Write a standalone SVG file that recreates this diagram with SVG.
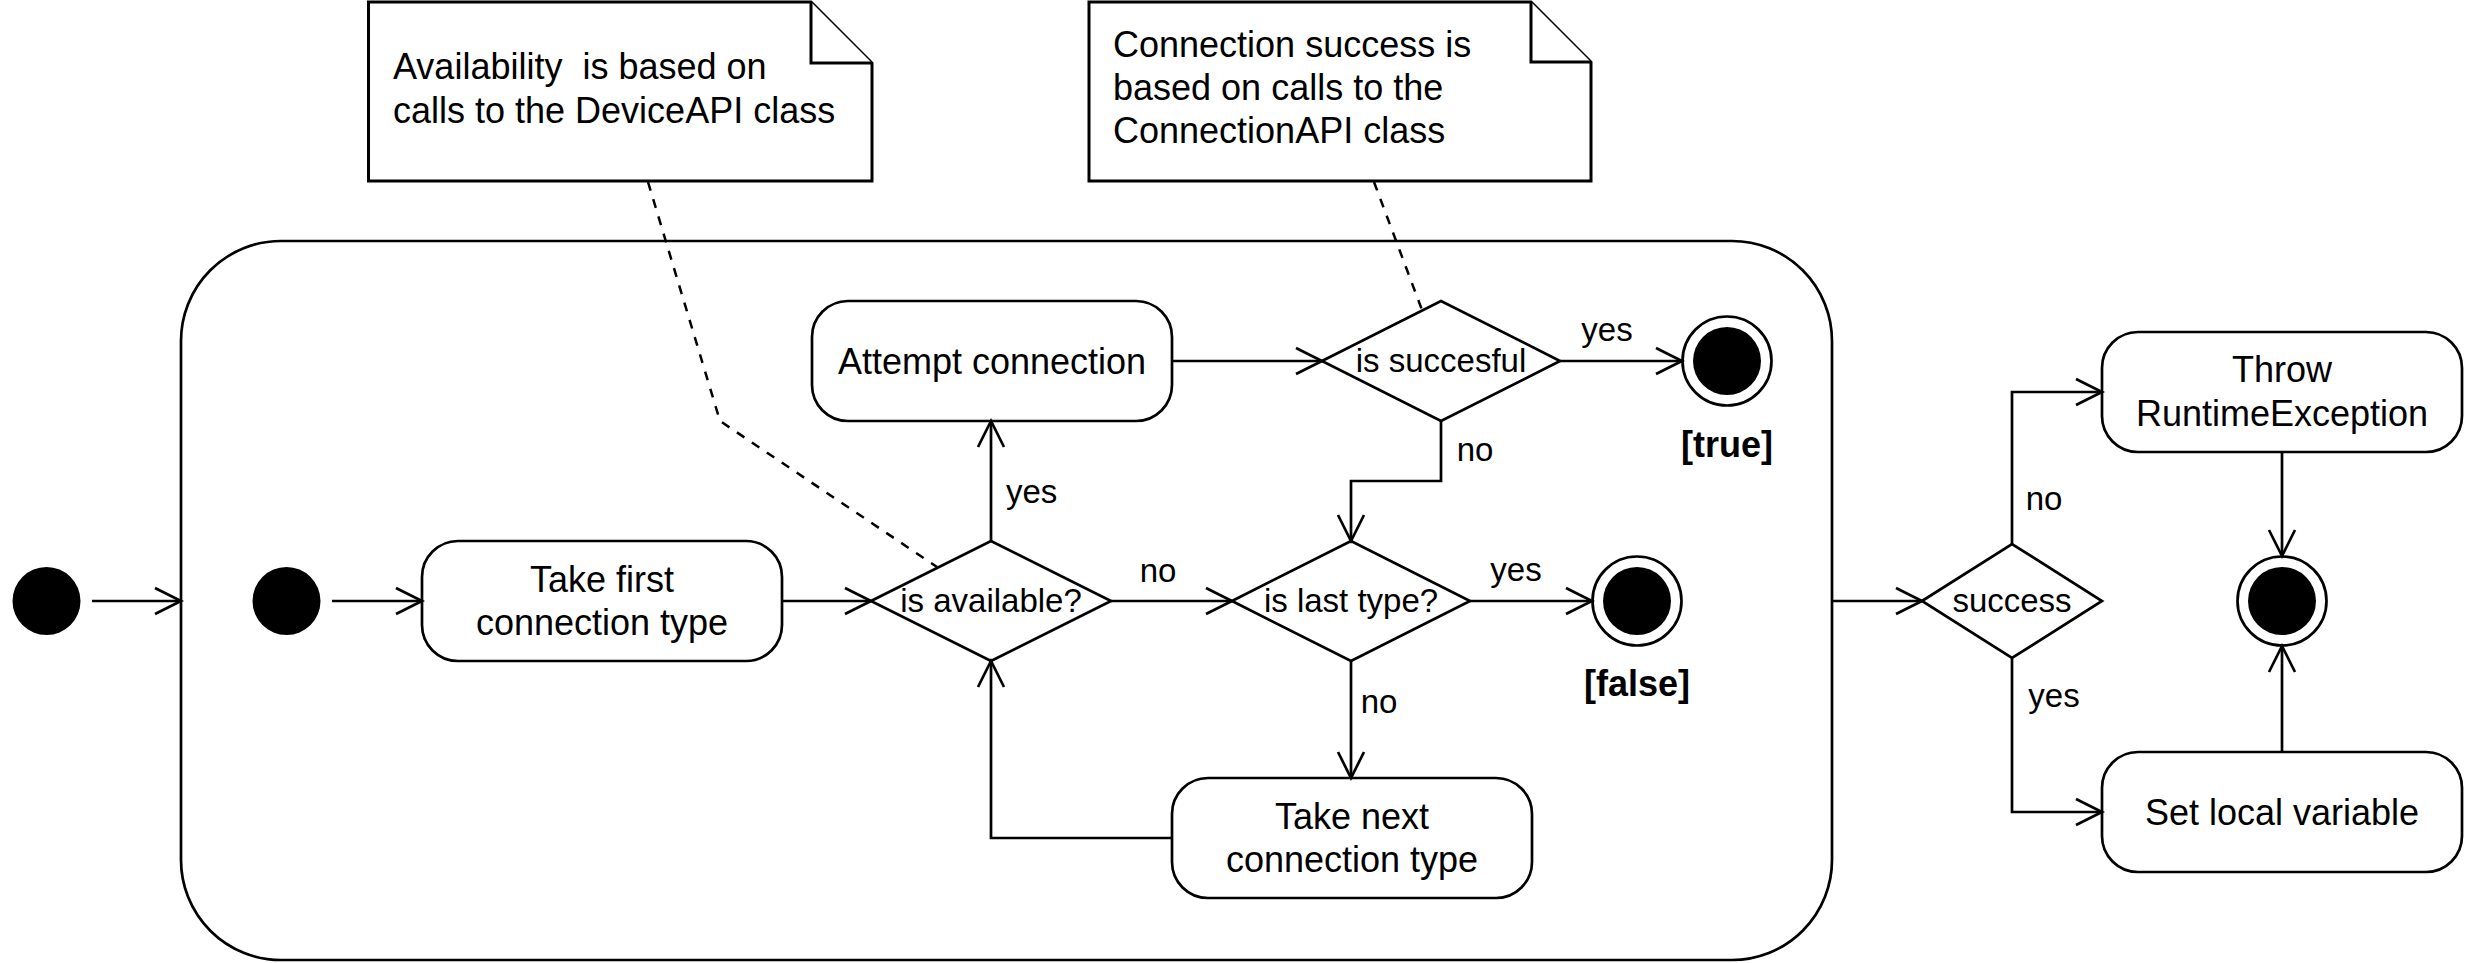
<svg xmlns="http://www.w3.org/2000/svg" width="2466" height="963" viewBox="0 0 2466 963">
<style>
.shape{fill:#fff;stroke:#000;stroke-width:2.7}
.note{fill:#fff;stroke:#000;stroke-width:3;stroke-linejoin:miter}
.edge{fill:none;stroke:#000;stroke-width:2.7}
.dash{fill:none;stroke:#000;stroke-width:2.5;stroke-dasharray:9 9}
.dot{fill:#000}
text{font-family:"Liberation Sans",Arial,Helvetica,sans-serif;fill:#000}
.t36{font-size:36px}
.t33{font-size:33px}
.c{text-anchor:middle}
.b{font-weight:bold;font-size:36px}
</style>
<defs>
<marker id="open" markerUnits="userSpaceOnUse" viewBox="-2 -2 32 32" refX="26" refY="13" markerWidth="32" markerHeight="32" orient="auto" overflow="visible">
<path d="M0,0 L26,13 L0,26" fill="none" stroke="#000" stroke-width="2.7"/>
</marker>
</defs>

<g id="container"><rect class="shape" x="181" y="241" width="1651" height="719" rx="100" ry="100"/></g>

<g id="note1">
<path class="note" d="M368.5,2 H811 L872,63 V181 H368.5 Z"/>
<path class="note" d="M811,2 V63 H872" fill="none"/>
<text class="t36" x="393" y="78.5" xml:space="preserve">Availability  is based on</text>
<text class="t36" x="393" y="122.5">calls to the DeviceAPI class</text>
</g>

<g id="note2">
<path class="note" d="M1089,2 H1531 L1591,62 V181 H1089 Z"/>
<path class="note" d="M1531,2 V62 H1591" fill="none"/>
<text class="t36" x="1113" y="57">Connection success is</text>
<text class="t36" x="1113" y="100">based on calls to the</text>
<text class="t36" x="1113" y="143">ConnectionAPI class</text>
</g>

<g id="outer-initial"><circle class="dot" cx="46.5" cy="601" r="34"/></g>
<g id="inner-initial"><circle class="dot" cx="286.5" cy="601" r="34"/></g>

<g id="take-first">
<rect class="shape" x="422" y="541" width="360" height="120" rx="36" ry="36"/>
<text class="t36 c" x="602" y="592">Take first</text>
<text class="t36 c" x="602" y="635">connection type</text>
</g>

<g id="is-available">
<polygon class="shape" points="871,601 991,541 1111,601 991,661"/>
<text class="t33 c" x="991" y="612">is available?</text>
</g>

<g id="attempt">
<rect class="shape" x="812" y="301" width="360" height="120" rx="36" ry="36"/>
<text class="t36 c" x="992" y="374">Attempt connection</text>
</g>

<g id="is-succesful">
<polygon class="shape" points="1322,361 1441,301 1560,361 1441,421"/>
<text class="t33 c" x="1441" y="372">is succesful</text>
</g>

<g id="final-true">
<circle class="shape" cx="1727" cy="361" r="44.5"/>
<circle class="dot" cx="1727" cy="361" r="34"/>
<text class="c b" x="1727" y="457">[true]</text>
</g>

<g id="is-last-type">
<polygon class="shape" points="1232,601 1351,541 1470,601 1351,661"/>
<text class="t33 c" x="1351" y="612">is last type?</text>
</g>

<g id="final-false">
<circle class="shape" cx="1637" cy="601" r="44.5"/>
<circle class="dot" cx="1637" cy="601" r="34"/>
<text class="c b" x="1637" y="696">[false]</text>
</g>

<g id="take-next">
<rect class="shape" x="1172" y="778" width="360" height="120" rx="36" ry="36"/>
<text class="t36 c" x="1352" y="829">Take next</text>
<text class="t36 c" x="1352" y="872">connection type</text>
</g>

<g id="success">
<polygon class="shape" points="1922,601 2012,544 2102,601 2012,658"/>
<text class="t33 c" x="2012" y="612">success</text>
</g>

<g id="throw">
<rect class="shape" x="2102" y="332" width="360" height="120" rx="36" ry="36"/>
<text class="t36 c" x="2282" y="382">Throw</text>
<text class="t36 c" x="2282" y="426">RuntimeException</text>
</g>

<g id="set-local">
<rect class="shape" x="2102" y="752" width="360" height="120" rx="36" ry="36"/>
<text class="t36 c" x="2282" y="825">Set local variable</text>
</g>

<g id="final-main">
<circle class="shape" cx="2282" cy="601" r="44.5"/>
<circle class="dot" cx="2282" cy="601" r="34"/>
</g>

<g id="connectors">
<path class="edge" marker-end="url(#open)" d="M92,601 H181"/>
<path class="edge" marker-end="url(#open)" d="M332,601 H422"/>
<path class="edge" marker-end="url(#open)" d="M782,601 H871"/>
<path class="edge" marker-end="url(#open)" d="M1111,601 H1232"/>
<path class="edge" marker-end="url(#open)" d="M1470,601 H1592"/>
<path class="edge" marker-end="url(#open)" d="M991,541 V421"/>
<path class="edge" marker-end="url(#open)" d="M1172,361 H1322"/>
<path class="edge" marker-end="url(#open)" d="M1560,361 H1682"/>
<path class="edge" marker-end="url(#open)" d="M1441,421 V481 H1351 V541"/>
<path class="edge" marker-end="url(#open)" d="M1351,661 V778"/>
<path class="edge" marker-end="url(#open)" d="M1172,838 H991 V661"/>
<path class="edge" marker-end="url(#open)" d="M1832,601 H1922"/>
<path class="edge" marker-end="url(#open)" d="M2012,544 V392 H2102"/>
<path class="edge" marker-end="url(#open)" d="M2012,658 V812 H2102"/>
<path class="edge" marker-end="url(#open)" d="M2282,452 V556"/>
<path class="edge" marker-end="url(#open)" d="M2282,752 V646"/>
<path class="dash" d="M648,182 L720,421 L937,567"/>
<path class="dash" d="M1374,182 L1422,310"/>
<text class="t33" x="1006" y="503">yes</text>
<text class="t33 c" x="1158" y="582">no</text>
<text class="t33 c" x="1516" y="581">yes</text>
<text class="t33 c" x="1379" y="713">no</text>
<text class="t33 c" x="1475" y="461">no</text>
<text class="t33 c" x="1607" y="341">yes</text>
<text class="t33 c" x="2044" y="510">no</text>
<text class="t33 c" x="2054" y="707">yes</text>
</g>
</svg>
